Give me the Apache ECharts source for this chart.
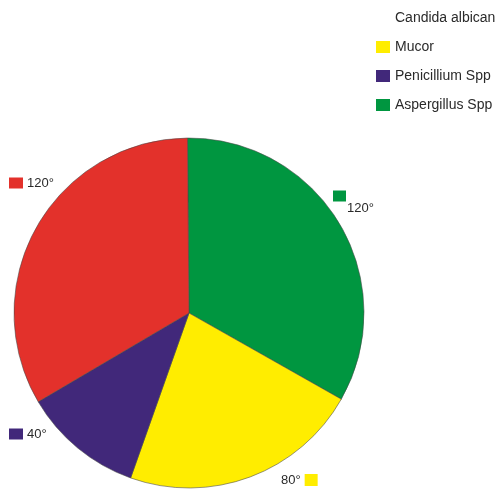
<!DOCTYPE html>
<html>
<head>
<meta charset="utf-8">
<script src="https://cdn.jsdelivr.net/npm/echarts@6/dist/echarts.min.js"></script>
<style>
  html, body { margin: 0; padding: 0; background: #fff; }
  #chart { width: 498px; height: 492px; }
</style>
</head>
<body>
<div id="chart"></div>
<script>
// slices, clockwise from the top
var categories = ['Aspergillus Spp', 'Mucor', 'Penicillium Spp', 'Candida albican'];
var degrees = [120, 80, 40, 120];
var labelTexts = ['120°', '80°', '40°', '120°'];
var legendOrder = ['Candida albican', 'Mucor', 'Penicillium Spp', 'Aspergillus Spp'];

var colors = ['#009640', '#ffed00', '#41287a', '#e3312b'];
// where each slice label sits (x, y of label anchor)
var labelPos = [[333, 190], [281, 480], [9, 434], [9, 183]];

(function () {
  var myChart = echarts.init(document.getElementById('chart'));

  var rich = {
    t: { fontSize: 13, color: '#2a2a2a', fontFamily: 'Liberation Sans' },
    g: { width: 4 },
    sp: { width: 14 },
    box0: { width: 13, height: 11, backgroundColor: colors[0], lineHeight: 12 },
    box1: { width: 13, height: 12, backgroundColor: colors[1] },
    box2: { width: 14, height: 11, backgroundColor: colors[2] },
    box3: { width: 14, height: 11, backgroundColor: colors[3] }
  };

  var data = categories.map(function (name, i) {
    return { name: name, value: degrees[i], itemStyle: { color: colors[i] } };
  });

  var option = {
    animation: false,
    legend: {
      orient: 'vertical',
      left: 376,
      top: 11,
      padding: 0,
      icon: 'rect',
      itemWidth: 14,
      itemHeight: 12,
      itemGap: 15,
      itemStyle: { borderWidth: 0 },
      textStyle: { fontSize: 14, color: '#2a2a2a', fontFamily: 'Liberation Sans' },
      data: legendOrder.map(function (n) {
        if (n === 'Candida albican') {
          return { name: n, itemStyle: { opacity: 0 } };
        }
        return { name: n };
      })
    },
    series: [
      {
        type: 'pie',
        center: [189, 313],
        radius: 175,
        startAngle: 90.5,
        clockwise: true,
        itemStyle: { borderColor: 'rgba(70,70,70,0.7)', borderWidth: 0.8 },
        label: {
          show: true,
          position: 'inside',
          overflow: 'none',
          formatter: function (p) {
            var i = p.dataIndex;
            if (i === 0) return '{box0|}\n{sp|}{t|' + labelTexts[i] + '}';
            if (i === 1) return '{t|' + labelTexts[i] + '}{g|}{box1|}';
            return '{box' + i + '|}{g|}{t|' + labelTexts[i] + '}';
          },
          rich: rich
        },
        labelLine: { show: false },
        labelLayout: function (p) {
          var pos = labelPos[p.dataIndex];
          return {
            x: pos[0],
            y: pos[1],
            align: 'left',
            verticalAlign: p.dataIndex === 0 ? 'top' : 'middle'
          };
        },
        emphasis: { disabled: true },
        data: data
      }
    ]
  };

  myChart.setOption(option);
  window.addEventListener('resize', function () {
    myChart.resize();
  });
})();
</script>
</body>
</html>
